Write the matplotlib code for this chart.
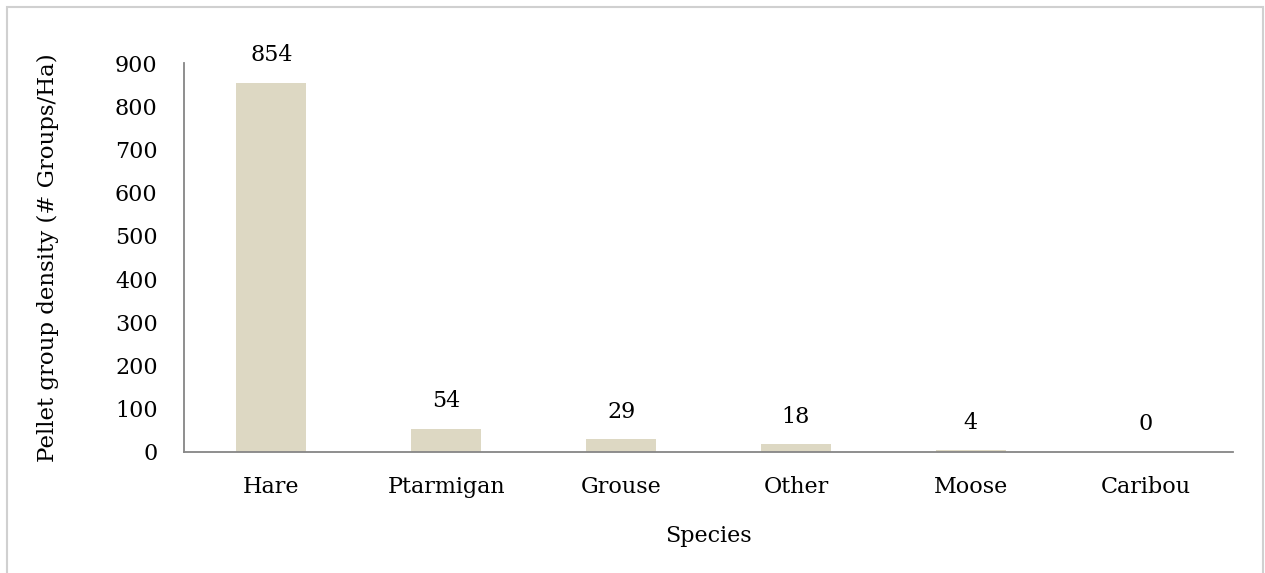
import matplotlib.pyplot as plt
from matplotlib.patches import Rectangle

# Pellet group densities by species
species = ["Hare", "Ptarmigan", "Grouse", "Other", "Moose", "Caribou"]
density = [854, 54, 29, 18, 4, 0]
yticks = [0, 100, 200, 300, 400, 500, 600, 700, 800, 900]

plt.rcParams["font.family"] = ["DejaVu Serif"]
plt.rcParams["font.size"] = 16

fig = plt.figure(figsize=(12.65, 5.73), dpi=100)
ax = fig.add_axes([184 / 1265, 1 - 452 / 573, (1233 - 184) / 1265, (452 - 63) / 573])

x = range(len(species))
ax.bar(x, density, width=0.4, color="#DDD8C3")
for xi, v in zip(x, density):
    ax.annotate(str(v), (xi, v), xytext=(0, 12), textcoords="offset points",
                ha="center", va="bottom", fontsize=16)

ax.set_xlim(-0.5, len(species) - 0.5)
ax.set_ylim(0, 900)
ax.set_yticks(yticks)
ax.set_xticks(list(x))
ax.set_xticklabels(species)
ax.tick_params(length=0)
ax.tick_params(axis="x", pad=17)
ax.tick_params(axis="y", pad=19)

for side in ["top", "right"]:
    ax.spines[side].set_visible(False)
for side in ["left", "bottom"]:
    ax.spines[side].set_color("#868686")
    ax.spines[side].set_linewidth(1.3)

ax.set_xlabel("Species", labelpad=20)
ax.set_ylabel("Pellet group density (# Groups/Ha)", labelpad=40, fontsize=16.5)

# light frame around the chart area
fig.patches.append(Rectangle((7 / 1265, -0.02), 1256 / 1265, 1 - 7 / 573 + 0.02,
                             transform=fig.transFigure, fill=False,
                             edgecolor="#D0D0D0", linewidth=1.5))

fig.savefig("out.png", dpi=100)
